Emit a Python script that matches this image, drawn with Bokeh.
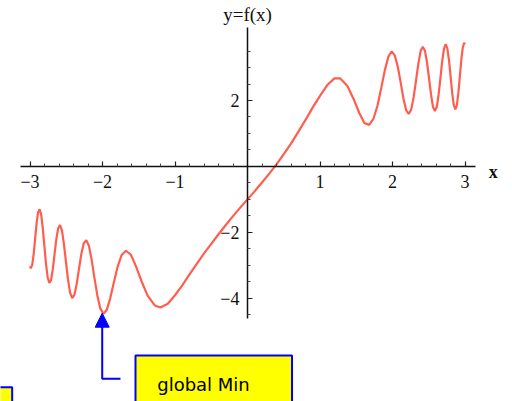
from bokeh.plotting import figure
from bokeh.models import (Range1d, LinearAxis, FixedTicker, CustomJSTickFormatter,
                          Label, Arrow, NormalHead, BoxAnnotation)
from bokeh.embed import file_html
from bokeh.resources import INLINE

# ---- data ----
x_left = [-3.0, -2.989, -2.9693, -2.9494, -2.9292, -2.9087, -2.8879, -2.8668, -2.8454, -2.8237,
          -2.8017, -2.7793, -2.7565, -2.7333, -2.7097, -2.6858, -2.6613, -2.6365, -2.6111, -2.5853,
          -2.5589, -2.5319, -2.5044, -2.4763, -2.4475, -2.418, -2.3878, -2.3567, -2.3249, -2.2922,
          -2.2584, -2.2237, -2.1878, -2.1507, -2.1123, -2.0724, -2.031, -1.9878, -1.9426, -1.8952,
          -1.8453, -1.7925, -1.7365, -1.6765, -1.612, -1.5418, -1.4646, -1.3781, -1.2794]
y_left = [-3.03, -3.09, -2.99, -2.66, -2.19, -1.72, -1.39, -1.30, -1.47, -1.88,
          -2.42, -2.96, -3.37, -3.54, -3.45, -3.12, -2.66, -2.20, -1.87, -1.78,
          -1.95, -2.36, -2.89, -3.43, -3.83, -4.00, -3.90, -3.58, -3.12, -2.66,
          -2.33, -2.24, -2.41, -2.82, -3.37, -3.90, -4.31, -4.47, -4.36, -4.02,
          -3.54, -3.05, -2.69, -2.56, -2.67, -3.01, -3.47, -3.92, -4.22]
x_mid = [-1.2, -1.1, -1.0, -0.9, -0.8, -0.7, -0.6, -0.5, -0.4, -0.3, -0.2, -0.1, 0.0,
         0.1, 0.2, 0.3, 0.4, 0.5, 0.6, 0.7, 0.8, 0.9, 1.0, 1.1, 1.2]
y_mid = [-4.28, -4.17, -3.91, -3.61, -3.28, -2.96, -2.64, -2.35, -2.06, -1.78, -1.51, -1.25, -1.0,
         -0.75, -0.49, -0.22, 0.06, 0.37, 0.69, 1.05, 1.41, 1.79, 2.14, 2.47, 2.67]
x_right = [1.2794, 1.3781, 1.4646, 1.5418, 1.612, 1.6765, 1.7365, 1.7925, 1.8453, 1.8952,
           1.9426, 1.9878, 2.031, 2.0724, 2.1123, 2.1507, 2.1878, 2.2237, 2.2584, 2.2922,
           2.3249, 2.3567, 2.3878, 2.418, 2.4475, 2.4763, 2.5044, 2.5319, 2.5589, 2.5853,
           2.6111, 2.6365, 2.6613, 2.6858, 2.7097, 2.7333, 2.7565, 2.7793, 2.8017, 2.8237,
           2.8454, 2.8668, 2.8879, 2.9087, 2.9292, 2.9494, 2.9693, 2.989, 3.0]
y_right = [2.67, 2.44, 2.04, 1.62, 1.32, 1.26, 1.44, 1.84, 2.39, 2.93,
           3.33, 3.49, 3.37, 3.03, 2.55, 2.06, 1.71, 1.59, 1.73, 2.11,
           2.62, 3.12, 3.50, 3.63, 3.51, 3.15, 2.66, 2.17, 1.80, 1.68,
           1.81, 2.19, 2.69, 3.20, 3.57, 3.71, 3.58, 3.22, 2.72, 2.22,
           1.86, 1.73, 1.86, 2.23, 2.74, 3.24, 3.61, 3.75, 3.71]

x_ticks = [-3, -2, -1, 1, 2, 3]
x_minor = [-2.8, -2.6, -2.4, -2.2, -1.8, -1.6, -1.4, -1.2, -0.8, -0.6, -0.4, -0.2,
           0.2, 0.4, 0.6, 0.8, 1.2, 1.4, 1.6, 1.8, 2.2, 2.4, 2.6, 2.8]
y_ticks = [-4, -2, 2]
y_minor = [-4.5, -3.5, -3, -2.5, -1.5, -1, -0.5, 0.5, 1, 1.5, 2.5, 3, 3.5]

y_label = "y=f(x)"
x_label = "x"
callout_text = "global Min"
min_x, min_y = -2.004, -4.455

xs = x_left + x_mid + x_right
ys = y_left + y_mid + y_right

p = figure(width=512, height=401, output_backend="svg", toolbar_location=None,
           x_axis_location=None, y_axis_location=None,
           x_range=Range1d(-3.407, 3.655), y_range=Range1d(-7.135, 5.035))
p.min_border = 0
p.outline_line_color = None
p.grid.visible = False
p.background_fill_color = "white"

fmt = CustomJSTickFormatter(code="return tick < 0 ? '\u2212' + Math.abs(tick) : String(tick);")

xaxis = LinearAxis(fixed_location=0, bounds=(-3.13, 3.14),
                   ticker=FixedTicker(ticks=x_ticks, minor_ticks=x_minor),
                   formatter=fmt)
yaxis = LinearAxis(fixed_location=0, bounds=(-4.62, 4.22),
                   ticker=FixedTicker(ticks=y_ticks, minor_ticks=y_minor),
                   formatter=fmt)
for ax in (xaxis, yaxis):
    ax.axis_line_color = "#111111"
    ax.axis_line_width = 1.5
    ax.major_tick_in = 5
    ax.major_tick_out = 0
    ax.minor_tick_in = 3
    ax.minor_tick_out = 0
    ax.major_tick_line_color = "#222222"
    ax.minor_tick_line_color = "#444444"
    ax.major_tick_line_width = 1.2
    ax.minor_tick_line_width = 1
    ax.major_label_text_font = "Liberation Serif"
    ax.major_label_text_font_size = "18px"
    ax.major_label_text_color = "#111111"
xaxis.major_label_standoff = 9
yaxis.major_label_standoff = 8
p.add_layout(xaxis, "below")
p.add_layout(yaxis, "left")

p.line(xs, ys, line_color="#ff5444", line_width=2.2, line_alpha=0.95)

p.add_layout(Label(x=0, y=4.6, text=y_label, text_align="center", text_baseline="middle",
                   text_font="Liberation Serif", text_font_size="19px", text_color="#111111"))
p.add_layout(Label(x=3.39, y=-0.17, text=x_label, text_align="center", text_baseline="alphabetic",
                   text_font="Liberation Serif", text_font_size="18px", text_font_style="bold",
                   text_color="#111111"))

# callout
p.add_layout(BoxAnnotation(left=-1.545, right=0.614, top=-5.739, bottom=-8.5,
                           fill_color="#ffff00", fill_alpha=1, line_color="#0000ff", line_width=2,
                           line_alpha=1))
p.add_layout(BoxAnnotation(left=-4.0, right=-3.246, top=-6.70, bottom=-8.5,
                           fill_color="#ffff00", fill_alpha=1, line_color="#0000ff", line_width=2,
                           line_alpha=1))
p.add_layout(Label(x=-1.2455, y=-6.619, text=callout_text, text_align="left",
                   text_baseline="alphabetic", text_font="DejaVu Sans", text_font_size="18px",
                   text_color="#000000"))
p.line([min_x, min_x, -1.752], [-4.8, -6.446, -6.446], line_color="#0000ff", line_width=2)
p.add_layout(Arrow(end=NormalHead(size=14, fill_color="#0000ff", line_color="#0000ff"),
                   x_start=min_x, y_start=-4.9, x_end=min_x, y_end=min_y,
                   line_color="#0000ff", line_width=2))

open("out.html", "w").write(file_html(p, INLINE))
